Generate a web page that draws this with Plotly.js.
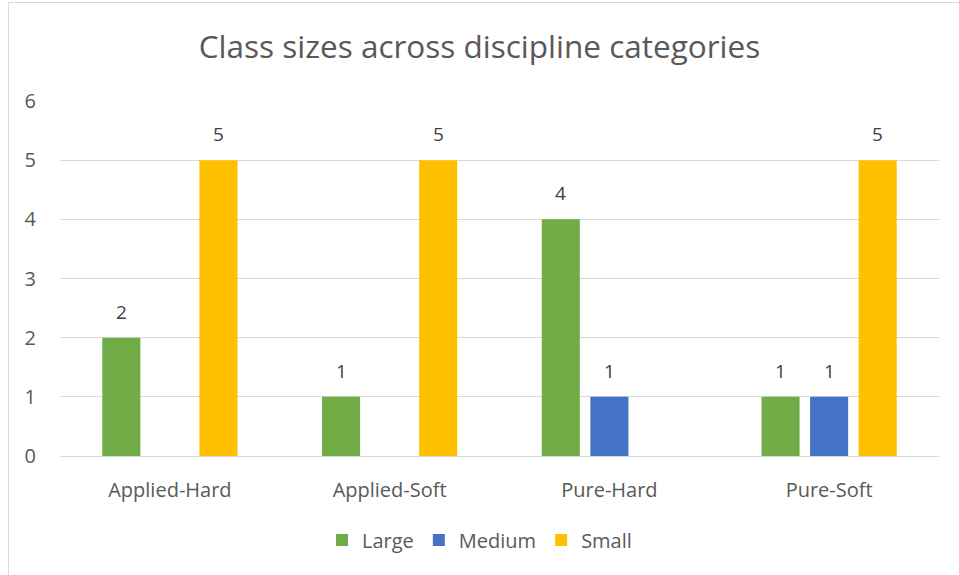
<!DOCTYPE html>
<html>
<head>
<meta charset="utf-8">
<script src="https://cdn.plot.ly/plotly-3.0.1.min.js"></script>
<style>
html,body{margin:0;padding:0;background:#fff;}
#chart{width:959px;height:575px;}
#frame{position:absolute;left:8px;top:2px;width:1200px;height:1200px;border:1px solid #d9d9d9;pointer-events:none;}
</style>
</head>
<body>
<div id="chart"></div>
<div id="frame"></div>
<script>
const categories = ["Applied-Hard", "Applied-Soft", "Pure-Hard", "Pure-Soft"];
const seriesNames = ["Large", "Medium", "Small"];
const large = [2, 1, 4, 1];
const medium = [0, 0, 1, 1];
const small = [5, 5, 0, 5];
const colors = ["#70AD47", "#4472C4", "#FFC000"];
const yTicks = [0, 1, 2, 3, 4, 5, 6];

const allSeries = [large, medium, small];
const font = "Open Sans, sans-serif";

const traces = allSeries.map((vals, i) => ({
  type: "bar",
  name: seriesNames[i],
  x: categories,
  y: vals.map(v => v === 0 ? null : v),
  marker: {color: colors[i], line: {width: 0}},
  hoverinfo: "x+y+name"
}));

const slot = 48.5;
const annotations = [];
allSeries.forEach((vals, i) => {
  vals.forEach((v, j) => {
    if (v > 0) {
      annotations.push({
        x: categories[j], y: v, xref: "x", yref: "y",
        text: String(v), showarrow: false,
        xanchor: "center", yanchor: "bottom",
        xshift: (i - 1) * slot, yshift: 11,
        font: {family: font, size: 19, color: "#404040"}
      });
    }
  });
});

const layout = {
  width: 959, height: 575,
  margin: {l: 60, r: 20, t: 101, b: 119, autoexpand: false},
  paper_bgcolor: "#ffffff", plot_bgcolor: "#ffffff",
  title: {text: "Class sizes across discipline categories", x: 0.5, xanchor: "center", y: 0.918, yanchor: "middle",
          font: {family: font, size: 31.5, color: "#595959"}},
  barmode: "group", bargap: 0.337, bargroupgap: 0.216,
  xaxis: {type: "category", showgrid: false, showline: true, linecolor: "#d9d9d9", linewidth: 1,
          ticks: "", tickfont: {family: font, size: 20, color: "#595959"}, ticklabelstandoff: 16},
  yaxis: {range: [0, 6], tickvals: yTicks, showgrid: true, gridcolor: "#d9d9d9", gridwidth: 1,
          zeroline: false, showline: false, ticks: "", ticklabelstandoff: 23,
          tickfont: {family: font, size: 20, color: "#595959"}},
  legend: {orientation: "h", x: 0.5, xanchor: "center", xref: "container", y: 0.061, yref: "container", yanchor: "middle",
           font: {family: font, size: 20, color: "#595959"}, itemwidth: 30, traceorder: "normal"},
  annotations: annotations,
  showlegend: true
};

Plotly.newPlot("chart", traces, layout, {displayModeBar: false, staticPlot: true});
</script>
</body>
</html>
